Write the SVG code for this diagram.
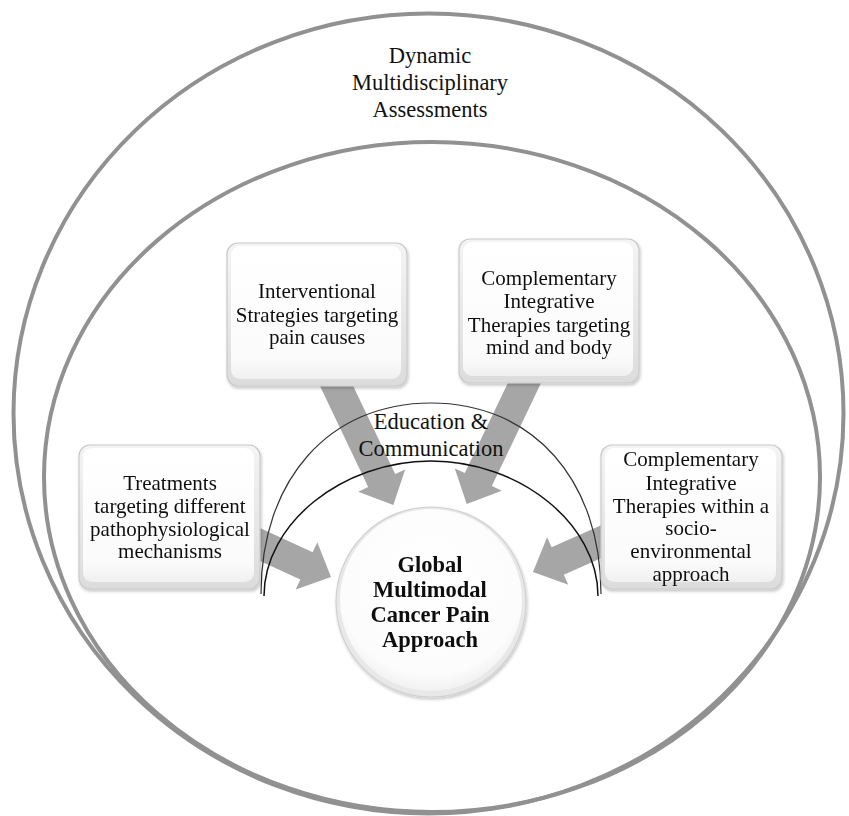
<svg xmlns="http://www.w3.org/2000/svg" width="849" height="816" viewBox="0 0 849 816">
<style>
.ring{fill:none;stroke:#919191;stroke-width:4}
.arrow{fill:#a6a6a6;stroke:none}
.arc{fill:none}
.t{font-family:"Liberation Serif","Times New Roman",serif;font-size:21px;fill:#111;text-anchor:middle}
.big{font-size:22.5px}
.b{font-weight:bold;font-size:22.5px}
.boxo{fill:url(#edge);stroke:#cacaca;stroke-width:1.2}
.boxi{fill:url(#face)}
</style>
<defs>
<linearGradient id="edge" x1="0" y1="0" x2="0" y2="1">
<stop offset="0" stop-color="#f4f4f4"/><stop offset="1" stop-color="#dcdcdc"/>
</linearGradient>
<linearGradient id="face" x1="0" y1="0" x2="0" y2="1">
<stop offset="0" stop-color="#ffffff"/><stop offset="0.85" stop-color="#fbfbfb"/><stop offset="1" stop-color="#f0f0f0"/>
</linearGradient>
<radialGradient id="cface" cx="0.5" cy="0.4" r="0.6">
<stop offset="0" stop-color="#ffffff"/><stop offset="0.85" stop-color="#fcfcfc"/><stop offset="1" stop-color="#f1f1f1"/>
</radialGradient>
<filter id="sh" x="-10%" y="-10%" width="125%" height="125%">
<feDropShadow dx="1" dy="2" stdDeviation="1.8" flood-color="#000" flood-opacity="0.22"/>
</filter>
</defs>
<rect width="849" height="816" fill="#fff"/>
<g id="rings">
<ellipse class="ring" cx="428.5" cy="413.5" rx="415" ry="400"/>
<ellipse class="ring" cx="432" cy="477" rx="388" ry="335" stroke-width="3.5"/>
</g>
<g id="assess-label">
<text class="t big" x="430" y="63">Dynamic</text>
<text class="t big" x="430" y="90">Multidisciplinary</text>
<text class="t big" x="430" y="117">Assessments</text>
</g>
<g id="connectors">
<polygon class="arrow" points="194.5,498.1 312.7,552.2 317.3,542.2 331,577 295.7,589.4 300.3,579.4 182.1,525.3"/>
<polygon class="arrow" points="339.2,356.8 395.2,474.1 405.2,469.4 393.3,505 358.2,491.8 368.2,487.1 312.2,369.8"/>
<polygon class="arrow" points="520.8,355.8 464.8,473.1 454.8,468.4 466.7,504 501.8,490.8 491.8,486.1 547.8,368.8"/>
<polygon class="arrow" points="670.4,494.5 551.6,547.3 547.1,537.2 533,572 568.3,584.8 563.8,574.7 682.6,521.9"/>
</g>
<g id="education">
<path class="arc" d="M 261 594 C 261 480 329 403 431 403 C 533 403 601 480 601 594" stroke="#333" stroke-width="1.2"/>
<path class="arc" d="M 264 596 C 264 524 342 461 431 461 C 520 461 598 524 598 596" stroke="#111" stroke-width="1.5"/>
<text class="t big" x="431" y="429">Education &amp;</text>
<text class="t big" x="431" y="456">Communication</text>
</g>
<g id="box-treatments" filter="url(#sh)">
<rect class="boxo" x="79" y="445" width="181" height="144" rx="11"/>
<rect class="boxi" x="83" y="448" width="171" height="134" rx="9"/>
<text class="t" x="170" y="490">Treatments</text>
<text class="t" x="170" y="513">targeting different</text>
<text class="t" x="170" y="536">pathophysiological</text>
<text class="t" x="170" y="558">mechanisms</text>
</g>
<g id="box-interventional" filter="url(#sh)">
<rect class="boxo" x="227" y="243" width="180" height="143" rx="11"/>
<rect class="boxi" x="231" y="246" width="170" height="133" rx="9"/>
<text class="t" x="317" y="298">Interventional</text>
<text class="t" x="317" y="322">Strategies targeting</text>
<text class="t" x="317" y="344">pain causes</text>
</g>
<g id="box-mindbody" filter="url(#sh)">
<rect class="boxo" x="459" y="239" width="180" height="144" rx="11"/>
<rect class="boxi" x="463" y="242" width="170" height="134" rx="9"/>
<text class="t" x="549" y="285">Complementary</text>
<text class="t" x="549" y="308">Integrative</text>
<text class="t" x="549" y="332">Therapies targeting</text>
<text class="t" x="549" y="354">mind and body</text>
</g>
<g id="box-socio" filter="url(#sh)">
<rect class="boxo" x="601" y="445" width="181" height="144" rx="11"/>
<rect class="boxi" x="605" y="448" width="171" height="134" rx="9"/>
<text class="t" x="691" y="466">Complementary</text>
<text class="t" x="691" y="490">Integrative</text>
<text class="t" x="691" y="513">Therapies within a</text>
<text class="t" x="691" y="535">socio-</text>
<text class="t" x="691" y="558">environmental</text>
<text class="t" x="691" y="581">approach</text>
</g>
<g id="center-node" filter="url(#sh)">
<circle cx="431" cy="602" r="95" fill="#e8e8e8" stroke="#d0d0d0" stroke-width="1.2"/>
<circle cx="431" cy="600" r="91" fill="url(#cface)"/>
<text class="t b" x="430" y="572">Global</text>
<text class="t b" x="430" y="597">Multimodal</text>
<text class="t b" x="430" y="622">Cancer Pain</text>
<text class="t b" x="430" y="647">Approach</text>
</g>
</svg>
